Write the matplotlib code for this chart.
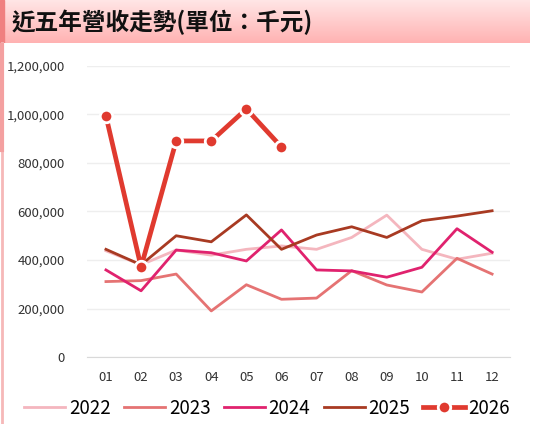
import numpy as np
import matplotlib.pyplot as plt
from matplotlib.ticker import FuncFormatter
from matplotlib.lines import Line2D

plt.rcParams['font.family'] = ['Noto Sans CJK TC', 'DejaVu Sans']

months = ['01', '02', '03', '04', '05', '06', '07', '08', '09', '10', '11', '12']
rev_2022 = [438000, 380000, 441000, 420000, 444000, 458000, 444000, 493000, 585000, 444000, 403000, 428000]
rev_2023 = [311000, 315000, 342000, 190000, 298000, 238000, 243000, 356000, 297000, 268000, 407000, 342000]
rev_2024 = [359000, 273000, 441000, 430000, 396000, 524000, 359000, 355000, 329000, 370000, 529000, 432000]
rev_2025 = [444000, 380000, 500000, 475000, 586000, 444000, 503000, 537000, 493000, 562000, 581000, 603000]
rev_2026 = [994000, 371000, 891000, 891000, 1023000, 866000]
title = '近五年營收走勢(單位：千元)'

fig = plt.figure(figsize=(5.34, 4.24), dpi=100)

# title bar with gradient
bar = fig.add_axes([0, 1 - 43 / 424, 530 / 534, 43 / 424])
grad = np.linspace(0, 1, 50).reshape(-1, 1)
c_top = np.array([1.0, 0.90, 0.90])
c_bot = np.array([1.0, 0.70, 0.70])
img = c_top + (c_bot - c_top) * grad[:, :, None]
bar.imshow(img, aspect='auto', extent=[0, 1, 0, 1], origin='upper')
bar.axvspan(0, 4 / 530, color='#F08080')
bar.set_xlim(0, 1)
bar.set_ylim(0, 1)
bar.axis('off')
bar.text(12 / 530, 0.48, title, fontsize=17, fontweight='bold', color='#111111',
         va='center', ha='left')

# left border
fig.add_artist(Line2D([2 / 534, 2 / 534], [0, 1 - 43 / 424], color='#F6B8B8', lw=2))
fig.add_artist(Line2D([2 / 534, 2 / 534], [1 - 150 / 424, 1 - 45 / 424], color='#F4A0A0', lw=3))

ax = fig.add_axes([87 / 534, 1 - 357 / 424, (510 - 87) / 534, (357 - 66) / 424])
x = np.arange(1, 13)
ax.plot(x, rev_2022, color='#F4B6BE', lw=2, label='2022')
ax.plot(x, rev_2023, color='#E57373', lw=2, label='2023')
ax.plot(x, rev_2024, color='#E0226E', lw=2, label='2024')
ax.plot(x, rev_2025, color='#A83A22', lw=2, label='2025')
ax.plot(x[:len(rev_2026)], rev_2026, color='#E03A2F', lw=3.4, marker='o', ms=9,
        mec='white', mew=2, label='2026')

ax.set_xlim(0.46, 12.51)
ax.set_ylim(0, 1200000)
ax.set_yticks(np.arange(0, 1200001, 200000))
ax.yaxis.set_major_formatter(FuncFormatter(lambda v, p: f'{int(v):,}'))
ax.set_xticks(x)
ax.set_xticklabels(months)
ax.grid(axis='y', color='#EEEEEE', lw=1)
ax.set_axisbelow(True)
for s in ['top', 'right', 'left']:
    ax.spines[s].set_visible(False)
ax.spines['bottom'].set_color('#D9D9D9')
ax.tick_params(length=0, labelsize=9.5, colors='#333333')
ax.tick_params(axis='x', pad=10)
ax.tick_params(axis='y', pad=16)

fig.legend(loc='center', bbox_to_anchor=(0.5, 1 - 408 / 424), ncol=5, frameon=False,
           fontsize=13.5, handlelength=2.2, columnspacing=0.7, handletextpad=0.2)

fig.savefig('out.png', dpi=100)
